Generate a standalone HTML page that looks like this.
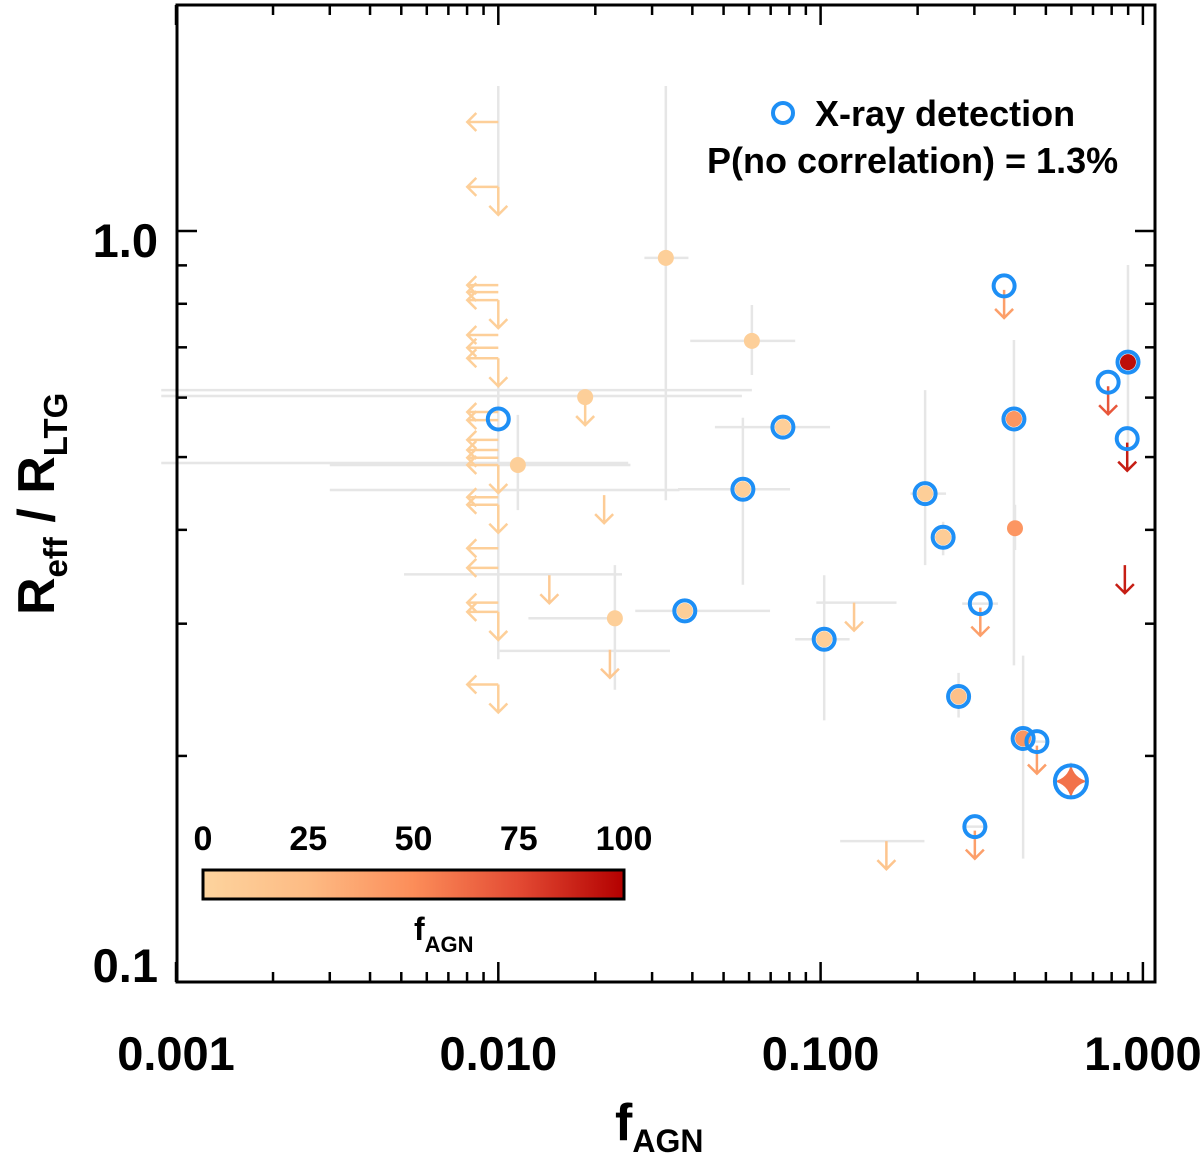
<!DOCTYPE html>
<html><head><meta charset="utf-8"><style>
html,body{margin:0;padding:0;background:#fff;}
svg{display:block;font-family:"Liberation Sans",Arial,sans-serif;}
</style></head><body>
<svg id="chart" width="1200" height="1159" viewBox="0 0 1200 1159">
<defs>
<linearGradient id="cb" x1="0" x2="1" y1="0" y2="0">
<stop offset="0" stop-color="#fdd49e"/><stop offset="0.25" stop-color="#fdbb84"/><stop offset="0.5" stop-color="#fc8d59"/><stop offset="0.75" stop-color="#e34a33"/><stop offset="1" stop-color="#b30000"/>
</linearGradient>
<clipPath id="plotclip"><rect x="0" y="5" width="1155" height="977"/></clipPath>
</defs>
<g id="errs" clip-path="url(#plotclip)"></g>
<g id="marks"></g>
<rect x="177" y="5" width="978" height="977" fill="none" stroke="#000" stroke-width="3"/>
<g id="axes"></g>
<g>
<circle cx="783" cy="113" r="10" fill="none" stroke="#1e8ff5" stroke-width="4"/>
<text x="815" y="126" font-size="36" font-weight="bold">X-ray detection</text>
<text x="707" y="173" font-size="36" font-weight="bold">P(no correlation) = 1.3%</text>
</g>
<g>
<rect x="203" y="870" width="421" height="29" fill="url(#cb)" stroke="#000" stroke-width="3"/>
<g id="cbticks" font-size="34" font-weight="bold" text-anchor="middle"></g>
<text x="414" y="940" font-size="32" font-weight="bold">f<tspan font-size="22" dy="12">AGN</tspan></text>
</g>
<text x="615" y="1140" font-size="52" font-weight="bold">f<tspan font-size="32" dy="12">AGN</tspan></text>
<text transform="translate(54,615) rotate(-90)" font-size="52" font-weight="bold">R<tspan font-size="33" dy="13">eff</tspan><tspan dy="-13"> / R</tspan><tspan font-size="33" dy="13">LTG</tspan></text>
</svg>
<script>
// axis data
const xTickVals=[0.001,0.01,0.1,1.0];
const xTickLabels=["0.001","0.010","0.100","1.000"];
const yTickVals=[0.1,1.0];
const yTickLabels=["0.1","1.0"];
const cbTickVals=[0,25,50,75,100];
// detected / measured points
const ptX=[0.0331,0.0612,0.0186,0.0115,0.0230,0.401,0.0764,0.0574,0.0379,0.1026,0.211,0.240,0.398,0.268,0.425,0.899,0.598,0.371,0.780,0.894,0.313,0.469,0.301,0.010,0.0213,0.0144,0.0222,0.127,0.160,0.879];
const ptY=[0.921,0.714,0.601,0.488,0.305,0.402,0.548,0.453,0.312,0.286,0.447,0.391,0.562,0.240,0.211,0.669,0.185,0.845,0.629,0.529,0.319,0.209,0.161,0.562,0.445,0.348,0.277,0.320,0.154,0.359];
const ptF=[5,5,5,5,5,45,6,6,6,6,6,8,45,20,45,95,60,40,70,90,40,40,40,5,8,10,12,10,15,90];
const ptRing=[0,0,0,0,0,0,1,1,1,1,1,1,1,1,1,1,2,1,1,1,1,1,1,1,0,0,0,0,0,0];
const ptKind=["dot","dot","dotlim","dot","dot","dot","dot","dot","dot","dot","dot","dot","dot","dot","dot","dot","star","lim","lim","lim","lim","lim","lim","none","lim","lim","lim","lim","lim","lim"];
const errXlo=[0.0284,0.0394,null,0.0030,0.0124,null,0.0470,0.0361,0.0266,0.0834,0.190,0.225,0.370,0.245,null,null,null,null,null,null,0.275,0.44,0.28,null,null,null,null,0.0970,0.115,null];
const errXhi=[0.0389,0.0834,null,0.0257,0.0239,null,0.107,0.0804,0.0697,0.123,0.245,0.260,0.430,0.290,null,null,null,null,null,null,0.355,0.50,0.33,null,null,null,null,0.172,0.210,null];
const errYlo=[0.438,0.643,null,0.425,0.245,0.376,0.530,0.338,null,0.223,0.359,0.370,0.264,0.225,0.146,0.511,0.175,null,null,null,null,null,null,null,null,null,null,null,null,null];
const errYhi=[1.56,0.797,null,0.569,0.359,0.432,0.565,0.564,null,0.348,0.614,0.410,0.716,0.258,0.272,0.901,0.196,null,null,null,null,null,null,null,null,null,null,null,null,null];
// x upper limits at f_AGN = 0.01
const limX=0.01;
const limY=[1.397,1.145,0.847,0.829,0.809,0.727,0.699,0.677,0.574,0.560,0.527,0.511,0.499,0.488,0.442,0.432,0.378,0.356,0.320,0.311,0.249];
const limDown=[0,1,0,0,1,0,0,1,0,0,0,0,0,1,0,1,0,0,0,1,1];
// extra horizontal / vertical error segments
const exY=[0.614,0.603,0.491,0.452,0.349,0.276];
const exX1=[0.0009,0.0009,0.0009,0.0030,0.0051,0.0101];
const exX2=[0.0612,0.0570,0.0253,0.0365,0.0242,0.0341];
const evX=[0.01,0.01];
const evY1=[1.56,0.624];
const evY2=[1.083,0.269];

const NS="http://www.w3.org/2000/svg";
const X0=176,XD=322.3,Y1=231,YD=751;
function xs(v){return X0+(Math.log10(v)+3)*XD;}
function ys(v){return Y1-Math.log10(v)*YD;}
function cmap(f){
 const st=[[0,[253,212,158]],[25,[253,187,132]],[50,[252,141,89]],[75,[227,74,51]],[100,[179,0,0]]];
 for(let i=0;i<st.length-1;i++){if(f<=st[i+1][0]){const t=(f-st[i][0])/(st[i+1][0]-st[i][0]);const a=st[i][1],b=st[i+1][1];return `rgb(${a.map((c,k)=>Math.round(c+(b[k]-c)*t)).join(',')})`;}}
 return "rgb(179,0,0)";
}
function mk(tag,attrs,parent){const e=document.createElementNS(NS,tag);for(const k in attrs)e.setAttribute(k,attrs[k]);parent.appendChild(e);return e;}
const errs=document.getElementById('errs'),marks=document.getElementById('marks'),axes=document.getElementById('axes');
const EC="#e6e6e6";
for(let i=0;i<exY.length;i++){const l=mk('line',{x1:xs(exX1[i]),x2:xs(exX2[i]),y1:ys(exY[i]),y2:ys(exY[i]),stroke:EC,'stroke-width':2.5},errs);

}
for(let i=0;i<evX.length;i++){const l=mk('line',{x1:xs(evX[i]),x2:xs(evX[i]),y1:ys(evY1[i]),y2:ys(evY2[i]),stroke:EC,'stroke-width':2.5},errs);

}
for(let i=0;i<ptX.length;i++){
 if(errXlo[i]!=null){const l=mk('line',{x1:xs(errXlo[i]),x2:xs(errXhi[i]),y1:ys(ptY[i]),y2:ys(ptY[i]),stroke:EC,'stroke-width':2.5},errs);
 
 }
 if(errYlo[i]!=null){const l=mk('line',{x1:xs(ptX[i]),x2:xs(ptX[i]),y1:ys(errYlo[i]),y2:ys(errYhi[i]),stroke:EC,'stroke-width':2.5},errs);
 
 }
}
function downArrow(x,y,c,g){mk('path',{d:`M${x},${y}V${y+28}M${x-9},${y+19}L${x},${y+28}L${x+9},${y+19}`,stroke:c,'stroke-width':2.5,fill:'none'},g);}
function leftArrow(x,y,c,g){mk('path',{d:`M${x},${y}H${x-31}M${x-22},${y-9}L${x-31},${y}L${x-22},${y+9}`,stroke:c,'stroke-width':2.5,fill:'none'},g);}
for(let i=0;i<limY.length;i++){
 const g=mk('g',{},marks);
 
 
 const x=xs(limX),y=ys(limY[i]),c=cmap(5);
 leftArrow(x,y,c,g);
 if(limDown[i]){downArrow(x,y,c,g);}
}
for(let i=0;i<ptX.length;i++){
 const g=mk('g',{},marks);
 
 
 const x=xs(ptX[i]),y=ys(ptY[i]),c=cmap(ptF[i]),k=ptKind[i];
 if(k==='lim'||k==='dotlim')downArrow(x,y+(ptRing[i]?4:0),c,g);
 if(k==='dot'||k==='dotlim')mk('circle',{cx:x,cy:y,r:8,fill:c},g);
 if(k==='star')mk('path',{d:`M${x-17},${y}Q${x-3},${y-3} ${x},${y-17}Q${x+3},${y-3} ${x+17},${y}Q${x+3},${y+3} ${x},${y+17}Q${x-3},${y+3} ${x-17},${y}Z`,fill:c},g);
 if(ptRing[i]===1)mk('circle',{cx:x,cy:y,r:10.5,fill:'none',stroke:'#1e8ff5','stroke-width':4},g);
 if(ptRing[i]===2)mk('circle',{cx:x,cy:y,r:16,fill:'none',stroke:'#1e8ff5','stroke-width':4},g);
}
for(let i=0;i<xTickVals.length;i++){const x=xs(xTickVals[i]);
 mk('line',{x1:x,x2:x,y1:982,y2:962,stroke:'#000','stroke-width':2.5},axes);mk('line',{x1:x,x2:x,y1:5,y2:25,stroke:'#000','stroke-width':2.5},axes);
 const t=mk('text',{x:x,y:1070,'font-size':47,'font-weight':'bold','text-anchor':'middle'},axes);t.textContent=xTickLabels[i];
 
 
 if(i<xTickVals.length-1)for(let m=2;m<=9;m++){const xm=xs(xTickVals[i]*m);mk('line',{x1:xm,x2:xm,y1:982,y2:972,stroke:'#000','stroke-width':2.5},axes);mk('line',{x1:xm,x2:xm,y1:5,y2:15,stroke:'#000','stroke-width':2.5},axes);}
}
for(let i=0;i<yTickVals.length;i++){const y=ys(yTickVals[i]);
 mk('line',{x1:177,x2:197,y1:y,y2:y,stroke:'#000','stroke-width':2.5},axes);mk('line',{x1:1155,x2:1135,y1:y,y2:y,stroke:'#000','stroke-width':2.5},axes);
 const t=mk('text',{x:158,y:(i===0?y:y+26),'font-size':47,'font-weight':'bold','text-anchor':'end'},axes);t.textContent=yTickLabels[i];
 
 
}
for(let m=2;m<=9;m++){for(const base of [0.1,1]){const v=base*m;if(v>2.0)continue;const y=ys(v);
 mk('line',{x1:177,x2:187,y1:y,y2:y,stroke:'#000','stroke-width':2.5},axes);mk('line',{x1:1155,x2:1145,y1:y,y2:y,stroke:'#000','stroke-width':2.5},axes);}}
const cbt=document.getElementById('cbticks');
for(let i=0;i<cbTickVals.length;i++){const x=203+cbTickVals[i]/100*421;
 const t=mk('text',{x:x,y:850},cbt);t.textContent=String(cbTickVals[i]);
 
 }
</script>
</body></html>
